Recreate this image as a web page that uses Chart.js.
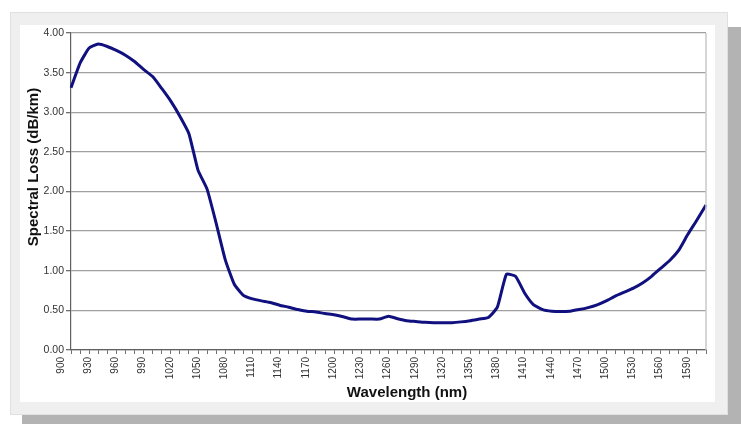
<!DOCTYPE html>
<html>
<head>
<meta charset="utf-8">
<script src="https://cdn.jsdelivr.net/npm/chart.js@4"></script>
<style>
  html, body { margin: 0; padding: 0; background: #ffffff; width: 741px; height: 424px; overflow: hidden; }
  #shadow { position: absolute; left: 22px; top: 27px; width: 719px; height: 397px; background: #b3b3b3; }
  #frame { position: absolute; left: 10px; top: 12px; width: 718px; height: 403px; background: #efefef; box-sizing: border-box; border: 1px solid #e0e0e0; }
  #inner { position: absolute; left: 20px; top: 25px; width: 695px; height: 377px; background: #ffffff; }
  #wrap { position: absolute; left: 0; top: 0; width: 741px; height: 424px; }
</style>
</head>
<body>
<div id="shadow"></div>
<div id="frame"></div>
<div id="inner"></div>
<div id="wrap"><canvas id="c" width="741" height="424"></canvas></div>
<script>
// Wavelength categories (nm), 900..1600 every 10 nm
const wavelengths = [
  900, 910, 920, 930, 940, 950, 960, 970, 980, 990,
  1000, 1010, 1020, 1030, 1040, 1050, 1060, 1070, 1080, 1090,
  1100, 1110, 1120, 1130, 1140, 1150, 1160, 1170, 1180, 1190,
  1200, 1210, 1220, 1230, 1240, 1250, 1260, 1270, 1280, 1290,
  1300, 1310, 1320, 1330, 1340, 1350, 1360, 1370, 1380, 1390,
  1400, 1410, 1420, 1430, 1440, 1450, 1460, 1470, 1480, 1490,
  1500, 1510, 1520, 1530, 1540, 1550, 1560, 1570, 1580, 1590,
  1600
];
// Spectral loss values (dB/km)
const spectralLoss = [
  3.31, 3.62, 3.81, 3.86, 3.83, 3.78, 3.72, 3.64, 3.54, 3.45,
  3.30, 3.14, 2.95, 2.73, 2.27, 2.03, 1.60, 1.14, 0.83, 0.69,
  0.645, 0.62, 0.60, 0.565, 0.54, 0.51, 0.49, 0.48, 0.46, 0.445,
  0.42, 0.39, 0.39, 0.39, 0.39, 0.425, 0.395, 0.37, 0.36, 0.35,
  0.345, 0.345, 0.345, 0.355, 0.37, 0.39, 0.41, 0.54, 0.955, 0.93,
  0.72, 0.57, 0.51, 0.49, 0.485, 0.49, 0.51, 0.535, 0.57, 0.62,
  0.68, 0.73, 0.78, 0.845, 0.93, 1.03, 1.13, 1.26, 1.46, 1.64,
  1.83
];
// Tick labels shown on the x axis
const xTickLabels = [900, 930, 960, 990, 1020, 1050, 1080, 1110, 1140, 1170, 1200, 1230, 1260, 1290, 1320, 1350, 1380, 1410, 1440, 1470, 1500, 1530, 1560, 1590];
const xTitle = 'Wavelength (nm)';
const yTitle = 'Spectral Loss (dB/km)';
const yMin = 0, yMax = 4, yStep = 0.5;

const FONT = 'Liberation Sans, Arial, sans-serif';

const extras = {
  id: 'extras',
  afterDraw(chart) {
    const {ctx, chartArea: a} = chart;
    ctx.save();
    // plot-area right border
    ctx.strokeStyle = '#c8c8c8';
    ctx.lineWidth = 1.5;
    ctx.beginPath();
    ctx.moveTo(a.right, a.top);
    ctx.lineTo(a.right, a.bottom);
    ctx.stroke();
    // axis titles
    ctx.fillStyle = '#111111';
    ctx.font = 'bold 15px ' + FONT;
    ctx.textAlign = 'center';
    ctx.textBaseline = 'middle';
    ctx.fillText(xTitle, 407, 393);
    ctx.translate(34, 167);
    ctx.rotate(-Math.PI / 2);
    ctx.fillText(yTitle, 0, 0);
    ctx.restore();
  }
};

new Chart(document.getElementById('c'), {
  type: 'line',
  data: {
    labels: wavelengths.map(String),
    datasets: [{
      data: spectralLoss,
      borderColor: '#10107f',
      borderWidth: 3,
      pointRadius: 0,
      tension: 0.15,
      fill: false
    }]
  },
  options: {
    responsive: false,
    animation: false,
    layout: { padding: { left: 0, right: 35, top: 33, bottom: 0 } },
    plugins: { legend: { display: false }, tooltip: { enabled: false } },
    scales: {
      x: {
        type: 'category',
        offset: false,
        grid: { drawOnChartArea: false, color: '#707070', tickLength: 4, lineWidth: 1 },
        border: { color: '#606060', width: 1.2 },
        ticks: {
          autoSkip: false,
          minRotation: 90, maxRotation: 90,
          padding: 3,
          labelOffset: -10,
          color: '#333333',
          font: { family: FONT, size: 10 },
          callback: function(v, i) {
            const w = wavelengths[i];
            return xTickLabels.includes(w) ? String(w) : '';
          }
        },
        afterFit(s) { s.height = 74; }
      },
      y: {
        min: yMin, max: yMax,
        grid: { color: '#a0a0a0', lineWidth: 1.3, tickLength: 5, tickColor: '#707070' },
        border: { color: '#606060', width: 1.2 },
        ticks: {
          stepSize: yStep,
          padding: 2,
          color: '#333333',
          font: { family: FONT, size: 10.5 },
          callback: v => Number(v).toFixed(2)
        },
        afterFit(s) { s.width = 71; }
      }
    }
  },
  plugins: [extras]
});
</script>
</body>
</html>
